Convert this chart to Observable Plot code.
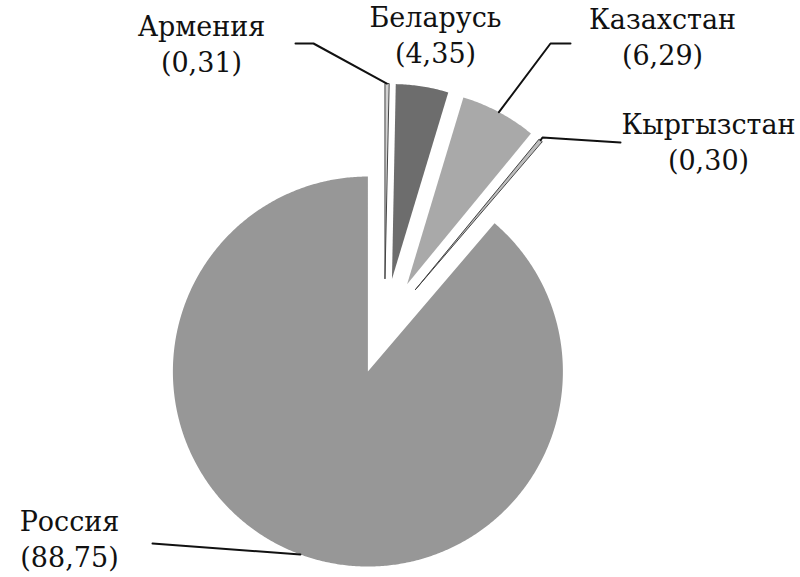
<!DOCTYPE html>
<html><head><meta charset="utf-8">
<script src="https://cdn.jsdelivr.net/npm/d3@7"></script>
<script src="https://cdn.jsdelivr.net/npm/@observablehq/plot@0.6"></script>
<style>body{margin:0;background:#fff}</style>
</head><body><div id="chart"></div>
<script>
// ---- data ----
const countries = ["Армения", "Беларусь", "Казахстан", "Кыргызстан", "Россия"];
const shares = [0.31, 4.35, 6.29, 0.30, 88.75];
const shareText = ["0,31", "4,35", "6,29", "0,30", "88,75"];

// ---- styles & layout ----
const sliceColors = ["#d2d2d2", "#6d6d6d", "#a9a9a9", "#bdbdbd", "#979797"];
const outlined = [true, false, false, true, false];
const W = 800, H = 577, CX = 384, CY = 326, R = 195, EXPLODE = 48;
const FS = 27, LH = 36;
const labelPos = [[201, 37], [435, 28], [662, 30], [708, 135], [69, 532]];
const leaderKnee = [[[295, 43], [313, 43]], null, [[570, 43], [550, 43]], [[620, 142], [542, 137]], [[152, 543]]];

const arcs = d3.pie().sort(null)(shares);
const pt = (cx, cy, r, a) => [cx + r * Math.sin(a), cy - r * Math.cos(a)];
const slicePts = [], leaders = [];
arcs.forEach((a, i) => {
  const mid = (a.startAngle + a.endAngle) / 2;
  const [ox, oy] = pt(CX, CY, EXPLODE, mid);
  slicePts.push({i, x: ox, y: oy});
  const n = Math.max(2, Math.ceil((a.endAngle - a.startAngle) / (Math.PI / 360)));
  for (let k = 0; k <= n; k++) {
    const t = a.startAngle + (a.endAngle - a.startAngle) * k / n;
    const [x, y] = pt(ox, oy, R, t);
    slicePts.push({i, x, y});
  }
  if (leaderKnee[i]) {
    leaderKnee[i].forEach(([x, y]) => leaders.push({i, x, y}));
    const [x, y] = pt(ox, oy, R, mid);
    leaders.push({i, x, y});
  }
});

const labels = countries.map((c, i) => ({i, text: `${c}\n(${shareText[i]})`}));

const chart = Plot.plot({
  width: W, height: H, margin: 0,
  x: {domain: [0, W], range: [0, W], axis: null},
  y: {domain: [0, H], range: [0, H], axis: null},
  color: {type: "identity"},
  marks: [
    Plot.line(slicePts, {x: "x", y: "y", z: "i", fill: d => sliceColors[d.i], stroke: "none", curve: "linear-closed"}),
    Plot.line(slicePts.filter(d => outlined[d.i]), {x: "x", y: "y", z: "i", fill: "none", stroke: "#444", strokeWidth: 1, curve: "linear-closed"}),
    Plot.line(leaders, {x: "x", y: "y", z: "i", stroke: "#111", strokeWidth: 2}),
    Plot.text(labels, {
      x: d => labelPos[d.i][0], y: d => labelPos[d.i][1] - 1.02 * FS,
      text: "text", lineAnchor: "top", lineHeight: LH / FS, textAnchor: "middle",
      fontSize: FS, fontFamily: "DejaVu Serif", fill: "#111"
    })
  ]
});
document.getElementById("chart").appendChild(chart);
</script>
</body></html>
